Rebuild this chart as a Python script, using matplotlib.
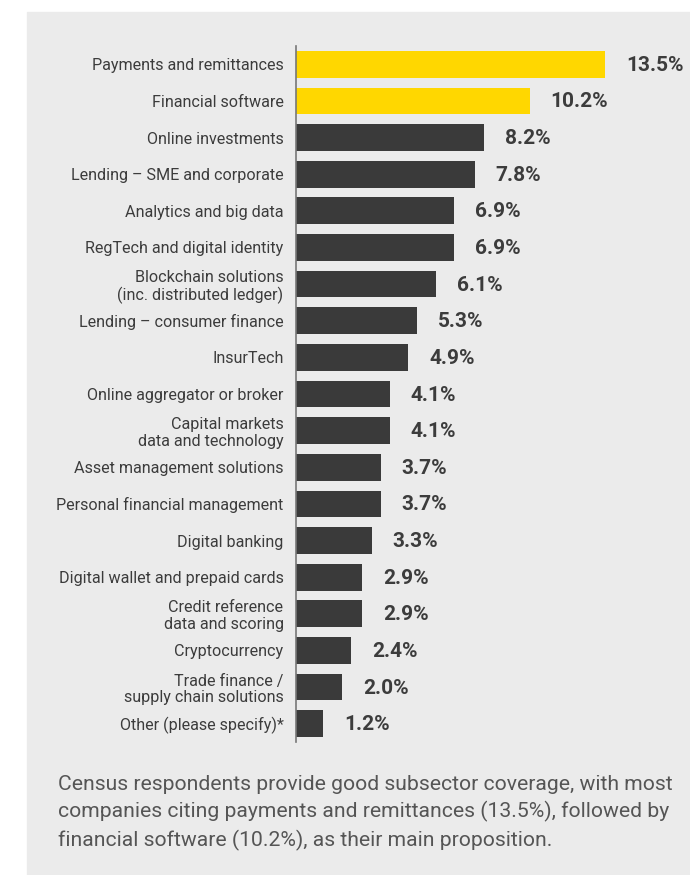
"""Fintech census: main subsector proposition, horizontal bars."""

import matplotlib
matplotlib.use("Agg")
import matplotlib.pyplot as plt
from matplotlib import font_manager
from matplotlib.patches import Rectangle

categories = [
    "Payments and remittances",
    "Financial software",
    "Online investments",
    "Lending \u2013 SME and corporate",
    "Analytics and big data",
    "RegTech and digital identity",
    "Blockchain solutions\n(inc. distributed ledger)",
    "Lending \u2013 consumer finance",
    "InsurTech",
    "Online aggregator or broker",
    "Capital markets\ndata and technology",
    "Asset management solutions",
    "Personal financial management",
    "Digital banking",
    "Digital wallet and prepaid cards",
    "Credit reference\ndata and scoring",
    "Cryptocurrency",
    "Trade finance /\nsupply chain solutions",
    "Other (please specify)*",
]
shares = [13.5, 10.2, 8.2, 7.8, 6.9, 6.9, 6.1, 5.3, 4.9, 4.1, 4.1, 3.7, 3.7,
          3.3, 2.9, 2.9, 2.4, 2.0, 1.2]
highlighted = 2  # top two are yellow

caption = ("Census respondents provide good subsector coverage, with most\n"
           "companies citing payments and remittances (13.5%), followed by\n"
           "financial software (10.2%), as their main proposition.")

YELLOW = "#ffd700"
DARK = "#3a3a3a"
BG = "#ebebeb"
TXT = "#3c3c3c"


def pick_font(names):
    have = {f.name for f in font_manager.fontManager.ttflist}
    for n in names:
        if n in have:
            return n
    return "DejaVu Sans"


FONT = pick_font(["Roboto", "Noto Sans", "Liberation Sans"])
plt.rcParams["font.family"] = [FONT, "DejaVu Sans"]

W, H = 690, 875
fig = plt.figure(figsize=(W / 100, H / 100), dpi=100)
fig.patch.set_facecolor("white")
# grey panel behind everything
fig.patches.append(Rectangle((27 / W, 0), 1 - 27 / W, 1 - 12 / H,
                             transform=fig.transFigure, color=BG, zorder=-10))

ax = fig.add_axes([296 / W, 1 - 742 / H, (W - 296) / W, 696 / H])
ax.set_facecolor("none")
n = len(categories)
ypos = list(range(n))
colors = [YELLOW if i < highlighted else DARK for i in range(n)]
ax.barh(ypos, shares, height=0.73, color=colors, zorder=2)
ax.set_ylim(n - 0.5, -0.5)
ax.set_xlim(0, 394 / 22.9)

for y, v in zip(ypos, shares):
    ax.annotate(f"{v:.1f}%", (v, y), xytext=(21, -1), textcoords="offset pixels",
                ha="left", va="center", fontsize=15, fontweight="bold", color=TXT)

ax.set_yticks(ypos)
ax.set_yticklabels(categories, fontsize=11.6, color=TXT, linespacing=1.12)
ax.tick_params(axis="y", length=0, pad=9)
ax.set_xticks([])
for s in ("top", "right", "bottom"):
    ax.spines[s].set_visible(False)
ax.spines["left"].set_color("#777777")
ax.spines["left"].set_linewidth(1.2)

fig.text(58 / W, 1 - 775 / H, caption, ha="left", va="top", fontsize=15.2,
         color="#555555", linespacing=1.45)

fig.savefig("out.png", dpi=100, facecolor="white")
